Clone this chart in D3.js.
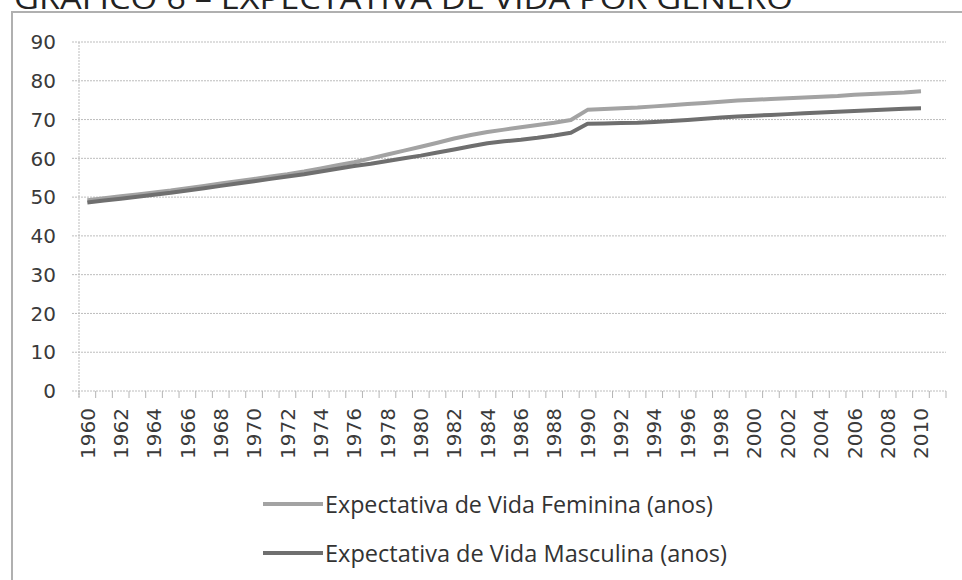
<!DOCTYPE html>
<html>
<head>
<meta charset="utf-8">
<script src="https://cdn.jsdelivr.net/npm/d3@7"></script>
<style>
  body { margin: 0; background: #fff; }
  text { font-family: "Open Sans", "Noto Sans", sans-serif; fill: #333; }
  .num { font-family: "DejaVu Sans", sans-serif; fill: #3a3a3a; }
</style>
</head>
<body>
<script>
var years = d3.range(1960, 2011);

var feminina = [49.2, 49.7, 50.2, 50.7, 51.2, 51.7, 52.3, 52.9, 53.5, 54.1,
                54.7, 55.3, 55.9, 56.6, 57.4, 58.2, 59.0, 60.0, 61.0, 62.0,
                63.0, 64.0, 65.1, 66.0, 66.8, 67.4, 68.0, 68.6, 69.2, 69.9,
                72.5, 72.7, 72.9, 73.1, 73.4, 73.7, 74.0, 74.3, 74.6, 74.9,
                75.1, 75.3, 75.5, 75.7, 75.9, 76.1, 76.4, 76.6, 76.8, 77.0, 77.3];

var masculina = [48.6, 49.1, 49.6, 50.1, 50.6, 51.1, 51.7, 52.3, 52.9, 53.5,
                 54.1, 54.7, 55.3, 55.9, 56.6, 57.3, 58.0, 58.6, 59.3, 60.0,
                 60.7, 61.5, 62.3, 63.1, 63.9, 64.4, 64.8, 65.3, 65.9, 66.6,
                 68.9, 69.0, 69.1, 69.2, 69.4, 69.6, 69.9, 70.2, 70.5, 70.8,
                 71.0, 71.2, 71.4, 71.6, 71.8, 72.0, 72.2, 72.4, 72.6, 72.8, 72.9];

var yTicks = [0, 10, 20, 30, 40, 50, 60, 70, 80, 90];
var xLabels = years.filter(function(d) { return d % 2 === 0; });

var titulo = "GRÁFICO 6 – EXPECTATIVA DE VIDA POR GÊNERO";
var series = [
  { nome: "Expectativa de Vida Feminina (anos)", valores: feminina, cor: "#a3a3a3", largura: 388 },
  { nome: "Expectativa de Vida Masculina (anos)", valores: masculina, cor: "#6f6f6f", largura: 402 }
];

var width = 962;
var height = 580;

var svg = d3.select("body")
  .append("svg")
  .attr("width", width)
  .attr("height", height);

// title, cut at the top like the scan
svg.append("text")
  .attr("x", 14)
  .attr("y", 9)
  .attr("font-size", 30)
  .attr("textLength", 779)
  .attr("lengthAdjust", "spacingAndGlyphs")
  .style("fill", "#222")
  .text(titulo);

// chart frame (left and top edges visible)
svg.append("path")
  .attr("d", "M12,580 L12,12 L962,12")
  .attr("fill", "none")
  .attr("stroke", "#b0b0b0")
  .attr("stroke-width", 2);

// one extra empty category slot after 2010, as in the original
var x = d3.scaleLinear()
  .domain([1959.5, 2011.5])
  .range([79, 946]);

var y = d3.scaleLinear()
  .domain([0, 90])
  .range([391, 42]);

var g = svg.append("g");

// gridlines
g.selectAll(".grid")
  .data(yTicks)
  .enter()
  .append("line")
  .attr("x1", 72)
  .attr("x2", x(2011.5))
  .attr("y1", function(d) { return y(d); })
  .attr("y2", function(d) { return y(d); })
  .attr("stroke", "#bdbdbd")
  .attr("stroke-dasharray", "2,1");

// y axis line
g.append("line")
  .attr("x1", x(1959.5)).attr("x2", x(1959.5))
  .attr("y1", y(90)).attr("y2", y(0) + 6)
  .attr("stroke", "#bdbdbd")
  .attr("stroke-dasharray", "2,1");

g.selectAll(".ylab")
  .data(yTicks)
  .enter()
  .append("text")
  .attr("class", "num")
  .attr("x", 56)
  .attr("y", function(d) { return y(d); })
  .attr("dy", "0.36em")
  .attr("text-anchor", "end")
  .attr("font-size", 20)
  .text(function(d) { return d; });

// x axis ticks at category boundaries
var bounds = d3.range(1959.5, 2012, 1);
g.selectAll(".xtick")
  .data(bounds)
  .enter()
  .append("line")
  .attr("x1", function(d) { return x(d); })
  .attr("x2", function(d) { return x(d); })
  .attr("y1", y(0))
  .attr("y2", y(0) + 7)
  .attr("stroke", "#b5b5b5");

g.selectAll(".xlab")
  .data(xLabels)
  .enter()
  .append("text")
  .attr("class", "num")
  .attr("transform", function(d) { return "translate(" + x(d) + "," + (y(0) + 17) + ") rotate(-90)"; })
  .attr("dy", "0.36em")
  .attr("text-anchor", "end")
  .attr("font-size", 20)
  .text(function(d) { return d; });

var line = d3.line()
  .x(function(d, i) { return x(years[i]); })
  .y(function(d) { return y(d); });

g.selectAll(".serie")
  .data(series)
  .enter()
  .append("path")
  .attr("fill", "none")
  .attr("stroke", function(d) { return d.cor; })
  .attr("stroke-width", 4)
  .attr("stroke-linejoin", "round")
  .attr("d", function(d) { return line(d.valores); });

// legend
var legend = svg.selectAll(".leg")
  .data(series)
  .enter()
  .append("g")
  .attr("transform", function(d, i) { return "translate(263," + (504 + i * 49) + ")"; });

legend.append("line")
  .attr("x1", 0).attr("x2", 60)
  .attr("stroke", function(d) { return d.cor; })
  .attr("stroke-width", 4);

legend.append("text")
  .attr("x", 62)
  .attr("dy", "0.36em")
  .attr("font-size", 24)
  .attr("textLength", function(d) { return d.largura; })
  .attr("lengthAdjust", "spacingAndGlyphs")
  .text(function(d) { return d.nome; });
</script>
</body>
</html>
